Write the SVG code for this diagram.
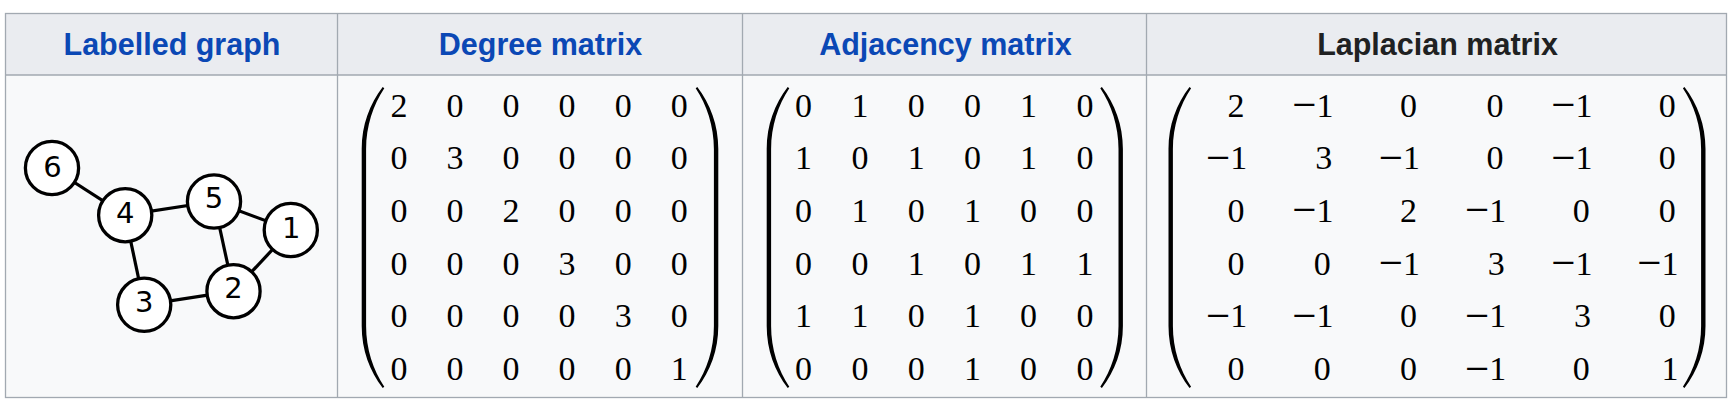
<svg xmlns="http://www.w3.org/2000/svg" xmlns:xlink="http://www.w3.org/1999/xlink" width="1730" height="405" viewBox="0 0 1730 405">
<style>
.hd{font-family:"Liberation Sans",Arial,sans-serif;font-weight:bold;font-size:30.5px;text-anchor:middle}
.lnk{fill:#0b48b5}
.plain{fill:#202122}
.grid{stroke:#a2a9b1;stroke-width:1.3;fill:none}
.edge{stroke:#000;stroke-width:3.2}
.node circle{fill:#fff;stroke:#000;stroke-width:3.3}
.node text{font-family:"DejaVu Sans",sans-serif;font-size:29px;text-anchor:middle;fill:#000}
.m text{font-family:"Liberation Serif","Times New Roman",serif;font-size:34px;fill:#000}
.c text{text-anchor:middle}
.r text{text-anchor:end}
.mn{font-size:43px}
.par{fill:#000}
</style>
<defs>
<path id="paren" d="M21,0 C8,17 0,38 0,62 L0,239 C0,263 8,284 21,301 L22.6,299.8 C11.5,283 4.4,262 4.4,239 L4.4,62 C4.4,39 11.5,18 22.6,1.2 Z"/>
</defs>
<rect width="1730" height="405" fill="#fff"/>
<g id="table">
<rect x="5.5" y="13.5" width="1721" height="61.5" fill="#eaecf0"/>
<rect x="5.5" y="75" width="1721" height="322.5" fill="#f8f9fa"/>
<rect class="grid" x="5.5" y="13.5" width="1721" height="384"/>
<line class="grid" x1="5.5" y1="75" x2="1726.5" y2="75"/>
<line class="grid" x1="337.5" y1="13.5" x2="337.5" y2="397.5"/>
<line class="grid" x1="742.5" y1="13.5" x2="742.5" y2="397.5"/>
<line class="grid" x1="1146.5" y1="13.5" x2="1146.5" y2="397.5"/>
</g>
<g id="headers">
<text class="hd lnk" x="172" y="55">Labelled graph</text>
<text class="hd lnk" x="540.5" y="55">Degree matrix</text>
<text class="hd lnk" x="945.5" y="55">Adjacency matrix</text>
<text class="hd plain" x="1437.5" y="55">Laplacian matrix</text>
</g>
<g id="edges">
<line class="edge" x1="52" y1="168" x2="125.2" y2="215.2"/>
<line class="edge" x1="125.2" y1="215.2" x2="214" y2="201.5"/>
<line class="edge" x1="214" y1="201.5" x2="290.8" y2="230"/>
<line class="edge" x1="214" y1="201.5" x2="233.5" y2="291.2"/>
<line class="edge" x1="290.8" y1="230" x2="233.5" y2="291.2"/>
<line class="edge" x1="125.2" y1="215.2" x2="144.2" y2="304.8"/>
<line class="edge" x1="144.2" y1="304.8" x2="233.5" y2="291.2"/>
</g>
<g id="node6" class="node"><circle cx="52" cy="168" r="26.6"/><text x="52.5" y="176.5">6</text></g>
<g id="node4" class="node"><circle cx="125.2" cy="215.2" r="26.6"/><text x="125.2" y="222.7">4</text></g>
<g id="node5" class="node"><circle cx="214" cy="201.5" r="26.6"/><text x="214" y="208.3">5</text></g>
<g id="node1" class="node"><circle cx="290.8" cy="230" r="26.6"/><text x="291.2" y="238.3">1</text></g>
<g id="node2" class="node"><circle cx="233.5" cy="291.2" r="26.6"/><text x="233.5" y="297.7">2</text></g>
<g id="node3" class="node"><circle cx="144.2" cy="304.8" r="26.6"/><text x="144.2" y="311.7">3</text></g>
<g id="degree-matrix" class="m c">
<use xlink:href="#paren" class="par" transform="translate(361.7,87)"/>
<use xlink:href="#paren" class="par" transform="translate(718.3,87) scale(-1,1)"/>
<text x="399" y="116.5">2</text><text x="455" y="116.5">0</text><text x="511" y="116.5">0</text><text x="567" y="116.5">0</text><text x="623.3" y="116.5">0</text><text x="679.3" y="116.5">0</text>
<text x="399" y="169.2">0</text><text x="455" y="169.2">3</text><text x="511" y="169.2">0</text><text x="567" y="169.2">0</text><text x="623.3" y="169.2">0</text><text x="679.3" y="169.2">0</text>
<text x="399" y="221.9">0</text><text x="455" y="221.9">0</text><text x="511" y="221.9">2</text><text x="567" y="221.9">0</text><text x="623.3" y="221.9">0</text><text x="679.3" y="221.9">0</text>
<text x="399" y="274.6">0</text><text x="455" y="274.6">0</text><text x="511" y="274.6">0</text><text x="567" y="274.6">3</text><text x="623.3" y="274.6">0</text><text x="679.3" y="274.6">0</text>
<text x="399" y="327.3">0</text><text x="455" y="327.3">0</text><text x="511" y="327.3">0</text><text x="567" y="327.3">0</text><text x="623.3" y="327.3">3</text><text x="679.3" y="327.3">0</text>
<text x="399" y="380">0</text><text x="455" y="380">0</text><text x="511" y="380">0</text><text x="567" y="380">0</text><text x="623.3" y="380">0</text><text x="679.3" y="380">1</text>
</g>
<g id="adjacency-matrix" class="m c">
<use xlink:href="#paren" class="par" transform="translate(766.7,87)"/>
<use xlink:href="#paren" class="par" transform="translate(1122.9,87) scale(-1,1)"/>
<text x="803.5" y="116.5">0</text><text x="860" y="116.5">1</text><text x="916.2" y="116.5">0</text><text x="972.4" y="116.5">0</text><text x="1028.6" y="116.5">1</text><text x="1085" y="116.5">0</text>
<text x="803.5" y="169.2">1</text><text x="860" y="169.2">0</text><text x="916.2" y="169.2">1</text><text x="972.4" y="169.2">0</text><text x="1028.6" y="169.2">1</text><text x="1085" y="169.2">0</text>
<text x="803.5" y="221.9">0</text><text x="860" y="221.9">1</text><text x="916.2" y="221.9">0</text><text x="972.4" y="221.9">1</text><text x="1028.6" y="221.9">0</text><text x="1085" y="221.9">0</text>
<text x="803.5" y="274.6">0</text><text x="860" y="274.6">0</text><text x="916.2" y="274.6">1</text><text x="972.4" y="274.6">0</text><text x="1028.6" y="274.6">1</text><text x="1085" y="274.6">1</text>
<text x="803.5" y="327.3">1</text><text x="860" y="327.3">1</text><text x="916.2" y="327.3">0</text><text x="972.4" y="327.3">1</text><text x="1028.6" y="327.3">0</text><text x="1085" y="327.3">0</text>
<text x="803.5" y="380">0</text><text x="860" y="380">0</text><text x="916.2" y="380">0</text><text x="972.4" y="380">1</text><text x="1028.6" y="380">0</text><text x="1085" y="380">0</text>
</g>
<g id="laplacian-matrix" class="m r">
<use xlink:href="#paren" class="par" transform="translate(1168.5,87)"/>
<use xlink:href="#paren" class="par" transform="translate(1705.5,87) scale(-1,1)"/>
<text x="1244.5" y="116.5">2</text><text x="1333.6" y="116.5"><tspan class="mn" dy="2.5">−</tspan><tspan dy="-2.5">1</tspan></text><text x="1417.1" y="116.5">0</text><text x="1503.4" y="116.5">0</text><text x="1592.5" y="116.5"><tspan class="mn" dy="2.5">−</tspan><tspan dy="-2.5">1</tspan></text><text x="1675.8" y="116.5">0</text>
<text x="1247.3" y="169.2"><tspan class="mn" dy="2.5">−</tspan><tspan dy="-2.5">1</tspan></text><text x="1332.2" y="169.2">3</text><text x="1419.9" y="169.2"><tspan class="mn" dy="2.5">−</tspan><tspan dy="-2.5">1</tspan></text><text x="1503.4" y="169.2">0</text><text x="1592.5" y="169.2"><tspan class="mn" dy="2.5">−</tspan><tspan dy="-2.5">1</tspan></text><text x="1675.8" y="169.2">0</text>
<text x="1244.5" y="221.9">0</text><text x="1333.6" y="221.9"><tspan class="mn" dy="2.5">−</tspan><tspan dy="-2.5">1</tspan></text><text x="1417.1" y="221.9">2</text><text x="1506.2" y="221.9"><tspan class="mn" dy="2.5">−</tspan><tspan dy="-2.5">1</tspan></text><text x="1589.7" y="221.9">0</text><text x="1675.8" y="221.9">0</text>
<text x="1244.5" y="274.6">0</text><text x="1330.8" y="274.6">0</text><text x="1419.9" y="274.6"><tspan class="mn" dy="2.5">−</tspan><tspan dy="-2.5">1</tspan></text><text x="1504.8" y="274.6">3</text><text x="1592.5" y="274.6"><tspan class="mn" dy="2.5">−</tspan><tspan dy="-2.5">1</tspan></text><text x="1678.6" y="274.6"><tspan class="mn" dy="2.5">−</tspan><tspan dy="-2.5">1</tspan></text>
<text x="1247.3" y="327.3"><tspan class="mn" dy="2.5">−</tspan><tspan dy="-2.5">1</tspan></text><text x="1333.6" y="327.3"><tspan class="mn" dy="2.5">−</tspan><tspan dy="-2.5">1</tspan></text><text x="1417.1" y="327.3">0</text><text x="1506.2" y="327.3"><tspan class="mn" dy="2.5">−</tspan><tspan dy="-2.5">1</tspan></text><text x="1591.1" y="327.3">3</text><text x="1675.8" y="327.3">0</text>
<text x="1244.5" y="380">0</text><text x="1330.8" y="380">0</text><text x="1417.1" y="380">0</text><text x="1506.2" y="380"><tspan class="mn" dy="2.5">−</tspan><tspan dy="-2.5">1</tspan></text><text x="1589.7" y="380">0</text><text x="1678.6" y="380">1</text>
</g>
</svg>
